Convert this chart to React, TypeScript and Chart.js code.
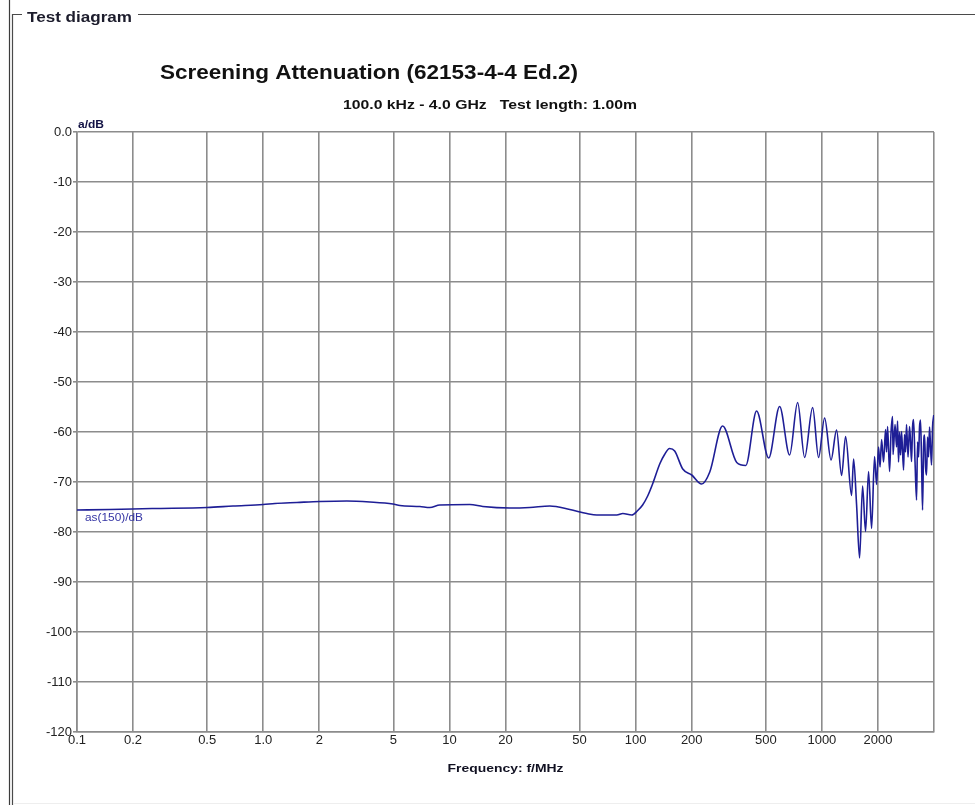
import { useEffect, useRef } from 'react';
import { Chart, registerables } from 'chart.js';

Chart.register(...registerables);

// ---- data ----
const frequenciesMHz = [
  0.1, 0.15, 0.253, 0.5, 0.688, 1.0, 1.156, 1.517, 2.015, 2.813, 3.739, 4.97, 5.42, 6.94, 7.85, 8.88,
  12.87, 15.11, 21.1, 27.0, 34.6, 44.3, 54.7, 61.8, 79.2, 85.3, 95.3, 102.6, 109, 116, 123, 135, 143,
  152, 162, 179, 200, 226, 250, 293, 349, 390, 446, 518, 593, 671, 741, 808, 892, 960, 1034, 1120,
  1199, 1276, 1341, 1443, 1480, 1536, 1594, 1654, 1716, 1781, 1849, 1918, 1966, 2015, 2053, 2092,
  2144, 2198, 2225, 2253, 2309, 2352, 2396, 2411, 2471, 2518, 2549, 2580, 2613, 2645, 2678, 2745,
  2779, 2813, 2848, 2902, 2956, 2993, 3030, 3068, 3106, 3164, 3224, 3264, 3304, 3345, 3387, 3430,
  3472, 3516, 3559, 3603, 3648, 3694, 3739, 3786, 3833, 3880, 3930, 3990,
];
const attenuationDb = [
  -75.6, -75.5, -75.3, -75.1, -74.8, -74.5, -74.3, -74.1, -73.9, -73.8, -74.0, -74.4, -74.7, -74.9, -75.1, -74.6,
  -74.5, -74.9, -75.2, -75.1, -74.8, -75.5, -76.3, -76.6, -76.6, -76.3, -76.6, -75.7, -74.6, -72.8, -70.5, -66.3, -64.5,
  -63.3, -63.8, -67.4, -68.6, -70.4, -68.0, -58.8, -66.1, -66.7, -55.8, -65.2, -54.9, -64.6, -54.1, -65.1, -55.1, -65.1, -57.2, -65.6,
  -59.6, -68.7, -60.9, -72.7, -65.4, -74.6, -85.2, -70.8, -79.9, -67.9, -79.3, -64.9, -70.5, -63.0, -67.0,
  -61.5, -66.0, -59.5, -64.0, -58.9, -67.9, -60.0, -56.9, -64.5, -58.5, -63.0, -57.8, -66.0, -60.0, -64.6, -59.9, -67.6,
  -60.5, -64.0, -58.5, -65.0, -58.9, -62.0, -65.9, -59.0, -57.5, -66.0, -73.6, -62.0, -65.0, -59.0, -57.6, -66.0,
  -75.6, -63.0, -60.6, -67.0, -68.6, -61.0, -65.0, -59.0, -63.0, -66.6, -59.0, -56.6,
];

const xTickValues = [0.1, 0.2, 0.5, 1, 2, 5, 10, 20, 50, 100, 200, 500, 1000, 2000, 4000];
const xTickLabels = ['0.1', '0.2', '0.5', '1.0', '2', '5', '10', '20', '50', '100', '200', '500', '1000', '2000', ''];
const yTickValues = [0, -10, -20, -30, -40, -50, -60, -70, -80, -90, -100, -110, -120];
const yTickLabels = ['0.0', '-10', '-20', '-30', '-40', '-50', '-60', '-70', '-80', '-90', '-100', '-110', '-120'];

const frameTitle = 'Test diagram';
const chartTitle = 'Screening Attenuation (62153-4-4 Ed.2)';
const chartSubtitle = '100.0 kHz - 4.0 GHz   Test length: 1.00m';
const yUnitLabel = 'a/dB';
const seriesLabel = 'as(150)/dB';
const xAxisTitle = 'Frequency: f/MHz';

const FONT = '"Liberation Sans", Arial, Helvetica, sans-serif';
const GRID = '#8c8c8c';
const LINE = '#1e1e96';

function stretchText(
  ctx: CanvasRenderingContext2D,
  text: string,
  x: number,
  baseline: number,
  width: number,
  font: string,
  color: string,
  align: 'left' | 'center' = 'left'
) {
  ctx.save();
  ctx.font = font;
  ctx.fillStyle = color;
  ctx.textBaseline = 'alphabetic';
  ctx.textAlign = 'left';
  const w = ctx.measureText(text).width || 1;
  const sx = width / w;
  const left = align === 'center' ? x - width / 2 : x;
  ctx.translate(left, baseline);
  ctx.scale(sx, 1);
  ctx.fillText(text, 0, 0);
  ctx.restore();
}

const decorPlugin = {
  id: 'decor',
  beforeDraw(chart: any) {
    const ctx: CanvasRenderingContext2D = chart.ctx;
    ctx.save();
    ctx.fillStyle = '#ffffff';
    ctx.fillRect(0, 0, chart.width, chart.height);
    ctx.strokeStyle = '#3c3c3c';
    ctx.lineWidth = 1.2;
    ctx.beginPath();
    ctx.moveTo(9.5, 0);
    ctx.lineTo(9.5, chart.height);
    ctx.stroke();
    ctx.strokeStyle = '#4a4a4a';
    ctx.beginPath();
    ctx.moveTo(12.5, chart.height);
    ctx.lineTo(12.5, 14.5);
    ctx.lineTo(22, 14.5);
    ctx.moveTo(138, 14.5);
    ctx.lineTo(chart.width, 14.5);
    ctx.stroke();
    ctx.strokeStyle = '#eeeeee';
    ctx.lineWidth = 1;
    ctx.beginPath();
    ctx.moveTo(13, chart.height - 1.5);
    ctx.lineTo(chart.width, chart.height - 1.5);
    ctx.stroke();
    ctx.restore();
  },
  afterDraw(chart: any) {
    const ctx: CanvasRenderingContext2D = chart.ctx;
    const a = chart.chartArea;
    const yScale = chart.scales.y;
    stretchText(ctx, frameTitle, 27, 21.5, 105, `bold 15px ${FONT}`, '#1c1c2c');
    stretchText(ctx, chartTitle, 160, 79, 418, `bold 20px ${FONT}`, '#111111');
    stretchText(ctx, chartSubtitle, 343, 109, 294, `bold 12.5px ${FONT}`, '#111111');
    stretchText(ctx, yUnitLabel, a.left + 1, a.top - 4, 26, `bold 11px ${FONT}`, '#111144');
    stretchText(ctx, seriesLabel, a.left + 8, yScale.getPixelForValue(-77.8), 58, `10.5px ${FONT}`, '#3434a4');
    stretchText(ctx, xAxisTitle, (a.left + a.right) / 2, a.bottom + 39.5, 116, `bold 11.5px ${FONT}`, '#111122', 'center');
  },
};

export default function App() {
  const canvasRef = useRef<HTMLCanvasElement | null>(null);

  useEffect(() => {
    if (!canvasRef.current) return;
    Chart.defaults.font.family = FONT;
    const chart = new Chart(canvasRef.current, {
      type: 'line',
      data: {
        datasets: [
          {
            label: seriesLabel,
            data: frequenciesMHz.map((f, i) => ({ x: f, y: attenuationDb[i] })),
            borderColor: LINE,
            borderWidth: 1.6,
            pointRadius: 0,
            fill: false,
            cubicInterpolationMode: 'monotone',
          },
        ],
      },
      options: {
        animation: false,
        responsive: false,
        maintainAspectRatio: false,
        layout: { padding: { left: 0, top: 132, right: 41, bottom: 0 } },
        plugins: { legend: { display: false }, tooltip: { enabled: false }, title: { display: false } },
        scales: {
          x: {
            type: 'logarithmic',
            min: 0.1,
            max: 4000,
            afterBuildTicks: (s: any) => {
              s.ticks = xTickValues.map((v) => ({ value: v }));
            },
            afterFit: (s: any) => {
              s.height = 73;
            },
            ticks: {
              autoSkip: false,
              maxRotation: 0,
              minRotation: 0,
              padding: 1,
              color: '#222222',
              font: { size: 13, family: FONT },
              callback: (_v: any, i: number) => xTickLabels[i],
            },
            grid: { color: GRID, lineWidth: 1.6, drawTicks: false },
            border: { color: GRID, width: 1.6 },
          },
          y: {
            type: 'linear',
            min: -120,
            max: 0,
            afterBuildTicks: (s: any) => {
              s.ticks = yTickValues.map((v) => ({ value: v }));
            },
            afterFit: (s: any) => {
              s.width = 77;
            },
            ticks: {
              autoSkip: false,
              padding: 1,
              color: '#222222',
              font: { size: 13, family: FONT },
              callback: (_v: any, i: number) => yTickLabels[i],
            },
            grid: { color: GRID, lineWidth: 1.6, tickLength: 4 },
            border: { color: GRID, width: 1.6 },
          },
        },
      },
      plugins: [decorPlugin],
    } as any);
    return () => chart.destroy();
  }, []);

  return (
    <div style={{ position: 'absolute', left: 0, top: 0, width: 975, height: 805, background: '#fff' }}>
      <canvas ref={canvasRef} width={975} height={805} style={{ display: 'block', width: 975, height: 805 }} />
    </div>
  );
}
